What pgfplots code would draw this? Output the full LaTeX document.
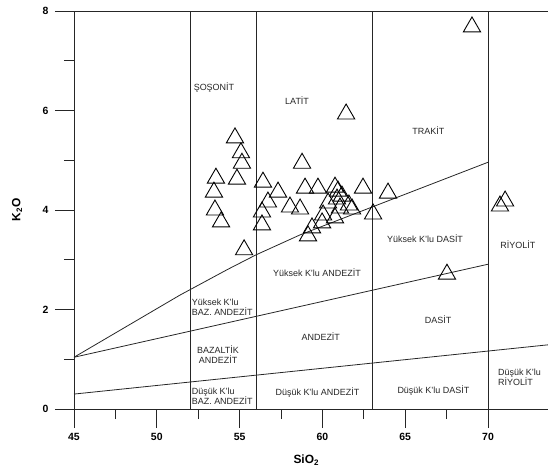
\documentclass[border=0pt]{standalone}
\usepackage{fontspec}
\setmainfont{Liberation Sans}
\usepackage{pgfplots}
\pgfplotsset{compat=1.18}
\pgfplotstableread{
x y
69.03 7.68
61.43 5.93
54.72 5.45
55.08 5.15
55.14 4.94
54.84 4.62
53.57 4.64
53.45 4.36
53.51 4.00
53.88 3.76
55.27 3.20
56.41 4.56
57.32 4.36
58.04 4.06
56.71 4.16
56.35 3.96
56.35 3.70
58.77 4.94
58.95 4.44
59.73 4.44
60.76 4.46
60.94 4.38
61.18 4.28
60.88 4.22
62.45 4.44
63.96 4.34
58.65 4.02
60.34 4.14
61.06 4.04
61.79 4.02
60.04 3.90
60.76 3.84
63.06 3.92
59.98 3.74
59.37 3.64
59.13 3.48
67.52 2.71
70.72 4.08
71.03 4.18
61.60 4.10
}\samples
\begin{document}
\begin{tikzpicture}
\useasboundingbox (-74bp,-64bp) rectangle (474bp,409bp);
\begin{axis}[
  at={(0,0)}, anchor=south west,
  scale only axis, width=474bp, height=398bp,
  xmin=45, xmax=73.62, ymin=0, ymax=8,
  clip=false,
  axis x line*=bottom, axis y line*=left,
  axis line style={black!85, line width=0.9pt},
  xtick={45,50,55,60,65,70},
  ytick={0,2,4,6,8},
  minor x tick num=1, minor y tick num=1,
  tick align=outside,
  major tick length=19bp, minor tick length=10bp,
  every tick/.style={black!85, line width=0.9pt},
  /pgf/number format/assume math mode=true,
  ticklabel style={font=\fontsize{10.5}{12}\selectfont\bfseries},
  xticklabel style={yshift=-2bp},
  yticklabel style={xshift=-3bp},
  xlabel={SiO\textsubscript{2}},
  ylabel={K\textsubscript{2}O},
  xlabel style={at={(axis description cs:0.49,-0.128)}, anchor=center, font=\fontsize{12}{14}\selectfont\bfseries},
  ylabel style={at={(axis description cs:-0.12,0.5)}, anchor=center, font=\fontsize{12}{14}\selectfont\bfseries},
]
% frame lines
\addplot[black!85, line width=0.9pt] coordinates {(45,8) (73.62,8)};
\addplot[black!85, line width=0.8pt] coordinates {(52,0) (52,8)};
\addplot[black!85, line width=0.8pt] coordinates {(56,0) (56,8)};
\addplot[black!85, line width=0.8pt] coordinates {(63,0) (63,8)};
\addplot[black!85, line width=0.8pt] coordinates {(70,0) (70,8)};
% boundaries
\addplot[black!85, line width=0.8pt] coordinates {(45,1.04) (51.4,2.29) (54.3,2.81) (56,3.1) (58.65,3.5) (63,4.06) (70,4.96)};
\addplot[black!85, line width=0.8pt] coordinates {(45,1.04) (70,2.91)};
\addplot[black!85, line width=0.8pt] coordinates {(45,0.30) (73.62,1.29)};
% samples
\addplot[only marks, mark=triangle, mark size=10pt, mark options={black, line width=0.9pt, fill=none}] table {\samples};
% labels
\begin{scope}[every node/.style={font=\fontsize{9}{10}\selectfont, text=black!85, align=center, inner sep=0pt}]
\node at (axis cs:53.45,6.47) {ŞOŞONİT};
\node at (axis cs:58.47,6.19) {LATİT};
\node at (axis cs:66.4,5.59) {TRAKİT};
\node at (axis cs:66.2,3.43) {Yüksek K'lu DASİT};
\node at (axis cs:71.8,3.30) {RİYOLİT};
\node at (axis cs:59.67,2.75) {Yüksek K'lu ANDEZİT};
\node at (axis cs:59.9,1.46) {ANDEZİT};
\node at (axis cs:59.7,0.34) {Düşük K'lu ANDEZİT};
\node at (axis cs:66.98,1.79) {DASİT};
\node at (axis cs:66.7,0.38) {Düşük K'lu DASİT};
\node[align=left] at (axis cs:71.9,0.64) {Düşük K'lu\\RİYOLİT};
\node[align=left] at (axis cs:53.95,2.05) {Yüksek K'lu\\BAZ. ANDEZİT};
\node at (axis cs:53.7,1.09) {BAZALTİK\\ANDEZİT};
\node[align=left] at (axis cs:53.95,0.26) {Düşük K'lu\\BAZ. ANDEZİT};
\end{scope}
\end{axis}
\end{tikzpicture}
\end{document}
